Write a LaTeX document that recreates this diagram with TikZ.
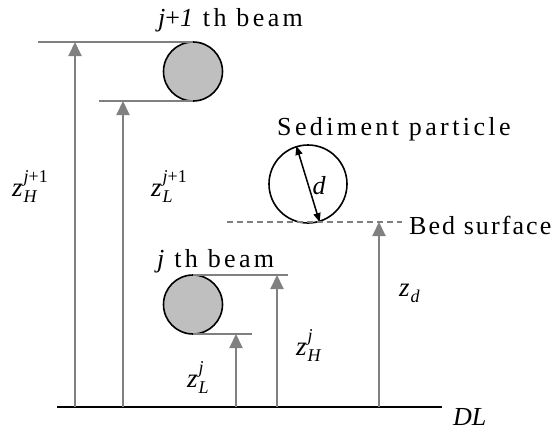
\documentclass[tikz,border=0pt]{standalone}
\usepackage{fontspec}
\setmainfont{Liberation Serif}
\newfontfamily\lsfont[LetterSpace=13]{Liberation Serif}
\newfontfamily\lsfontb[LetterSpace=8]{Liberation Serif}
\usetikzlibrary{arrows.meta}
\newcommand\zlab[2]{\textit{z}\kern1pt\rlap{\raisebox{14pt}{\fontsize{18}{18}\selectfont #2}}\raisebox{-6pt}{\fontsize{18}{18}\selectfont\textit{#1}}}
\begin{document}
\begin{tikzpicture}[x=1pt,y=-1pt,
  gl/.style={draw=black!50, line width=2pt},
  up/.style={gl, -{Triangle[length=14pt,width=13pt]}},
  beam/.style={circle, draw=black, line width=1.6pt, fill=black!25, minimum size=59pt, inner sep=0pt},
  lab/.style={font=\fontsize{26}{28}\lsfont, inner sep=0pt, anchor=base west},
  zl/.style={inner sep=0pt, anchor=base west, font=\fontsize{27}{30}\selectfont}]
\useasboundingbox (0,0) rectangle (560,432);
% datum line
\coordinate (dl0) at (57,407);
\coordinate (dl1) at (442,407);
\draw[black, line width=1.5pt] (dl0) -- (dl1);
\node[inner sep=0pt, anchor=base west, font=\fontsize{26}{28}\selectfont\itshape] (dl) at (453,425) {DL};
% j+1 th beam
\node[beam] (b1) at (193,71.5) {};
\coordinate (t1) at (38,42);
\coordinate (l1) at (99,101);
\draw[gl] (t1) -- (t1 -| b1.north);
\draw[gl] (l1) -- (l1 -| b1.south);
\coordinate (a1s) at (75,407); \coordinate (a1e) at (75,42);
\coordinate (a2s) at (123,407); \coordinate (a2e) at (123,101);
\draw[up] (a1s) -- (a1e);
\draw[up] (a2s) -- (a2e);
\node[lab] (tb1) at (158,26) {\itshape j\upshape+\itshape 1\upshape\ th beam};
\node[zl] (zh1) at (12,196) {\zlab{H}{\textit{j}+1}};
\node[zl] (zl1) at (151,196) {\zlab{L}{\textit{j}+1}};
% j th beam
\node[beam] (b2) at (193,304.5) {};
\coordinate (t2) at (288,275);
\coordinate (l2) at (252,334);
\draw[gl] (t2 -| b2.north) -- (t2);
\draw[gl] (l2 -| b2.south) -- (l2);
\coordinate (a3s) at (236,407); \coordinate (a3e) at (236,334);
\coordinate (a4s) at (277,407); \coordinate (a4e) at (277,275);
\draw[up] (a3s) -- (a3e);
\draw[up] (a4s) -- (a4e);
\node[lab] (tb2) at (157,267) {\itshape j\upshape\ th beam};
\node[zl] (zl2) at (187,387) {\zlab{L}{\textit{j}}};
\node[zl] (zh2) at (296,355) {\zlab{H}{\textit{j}}};
% sediment particle
\node[circle, draw=black, line width=1.6pt, minimum size=78pt, inner sep=0pt] (p) at (308,184) {};
\draw[black, line width=1.5pt, {Triangle[length=9pt,width=7pt]}-{Triangle[length=9pt,width=7pt]}] (p.107) -- (p.287);
\node[inner sep=0pt, font=\fontsize{26}{28}\selectfont\itshape] (dlab) at (319,186) {d};
\node[lab] (sp) at (277,135) {Sediment particle};
% bed surface
\coordinate (bs0) at (227,222);
\coordinate (bs1) at (402,222);
\draw[black!50, line width=1.3pt, dash pattern=on 6pt off 4pt] (bs0) -- (bs1);
\node[lab, font=\fontsize{26}{28}\lsfontb] (bs) at (409,234) {Bed surface};
\coordinate (a5s) at (379,407); \coordinate (a5e) at (379,222);
\draw[up] (a5s) -- (a5e);
\node[zl] (zd) at (399,296) {\textit{z}\kern1pt\raisebox{-6pt}{\fontsize{18}{18}\selectfont\textit{d}}};
\end{tikzpicture}
\end{document}
